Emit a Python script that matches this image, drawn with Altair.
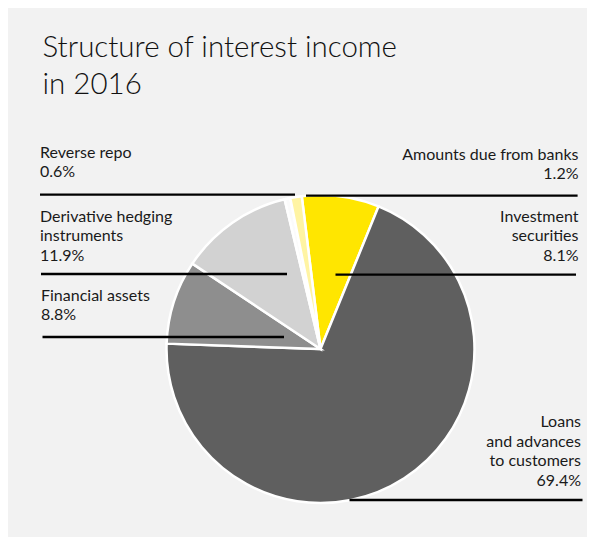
import math
import altair as alt
import pandas as pd

# ---- data ----
categories = ["Investment securities", "Loans and advances to customers", "Financial assets",
              "Derivative hedging instruments", "Reverse repo", "Amounts due from banks"]
shares = [8.1, 69.4, 8.8, 11.9, 0.6, 1.2]
slice_colors = ["#ffe600", "#5f5f5f", "#8e8e8e", "#d2d2d2", "#fbfbfb", "#fff4a3"]

label_texts = ["Reverse repo\n0.6%",
               "Amounts due from banks\n1.2%",
               "Derivative hedging\ninstruments\n11.9%",
               "Investment\nsecurities\n8.1%",
               "Financial assets\n8.8%",
               "Loans\nand advances\nto customers\n69.4%"]

# ---- layout (page pixel positions) ----
label_x = [40, 578.5, 40, 578.5, 41, 581]
label_y = [157.5, 159.5, 221.5, 221.5, 300.5, 427]
label_align = ["left", "right", "left", "right", "left", "right"]
leader_y = [194.6, 195.7, 274.0, 274.6, 337.0, 500.0]
leader_x1 = [40, 306, 41, 335.5, 42.5, 349.5]
leader_x2 = [295, 577.6, 287, 576, 284, 582.5]

W, H = 579, 529
start = math.radians(-7.0)

pie_df = pd.DataFrame({"name": categories, "value": shares, "idx": list(range(len(categories)))})
lab_df = pd.DataFrame({"text": label_texts, "x": label_x, "y": label_y, "align": label_align})
lead_df = pd.DataFrame({"y": leader_y, "x1": leader_x1, "x2": leader_x2})
title_df = pd.DataFrame({"text": ["Structure of interest income\nin 2016"], "x": [42.5], "y": [57]})

xs = alt.Scale(domain=[8, 8 + W], range=[0, W], nice=False, zero=False)
ys = alt.Scale(domain=[8, 8 + H], range=[0, H], nice=False, zero=False)

pie = alt.Chart(pie_df).mark_arc(
    x=312.5, y=341, outerRadius=154, stroke="white", strokeWidth=2.5
).encode(
    theta=alt.Theta("value:Q", stack=True, scale=alt.Scale(range=[start, start + 2 * math.pi])),
    color=alt.Color("name:N", scale=alt.Scale(domain=categories, range=slice_colors), legend=None),
    order=alt.Order("idx:Q"),
)

leaders = alt.Chart(lead_df).mark_rule(color="black", strokeWidth=2.3).encode(
    x=alt.X("x1:Q", scale=xs, axis=None),
    x2="x2:Q",
    y=alt.Y("y:Q", scale=ys, axis=None),
)

def label_layer(align):
    return alt.Chart(lab_df[lab_df["align"] == align]).mark_text(
        align=align, baseline="alphabetic", font="Lato", fontSize=16, lineHeight=19.5,
        color="#1a1a1a", lineBreak="\n"
    ).encode(
        x=alt.X("x:Q", scale=xs, axis=None),
        y=alt.Y("y:Q", scale=ys, axis=None),
        text="text:N",
    )

title = alt.Chart(title_df).mark_text(
    align="left", baseline="alphabetic", font="Lato", fontWeight=300, fontSize=29.5,
    lineHeight=37, color="#111111", lineBreak="\n"
).encode(
    x=alt.X("x:Q", scale=xs, axis=None),
    y=alt.Y("y:Q", scale=ys, axis=None),
    text="text:N",
)

chart = alt.layer(pie, leaders, label_layer("left"), label_layer("right"), title).properties(
    width=W, height=H, padding=0, background="#f2f2f2"
).configure_view(stroke=None)

chart.save("out.html", embed_options={"renderer": "svg", "actions": False})
